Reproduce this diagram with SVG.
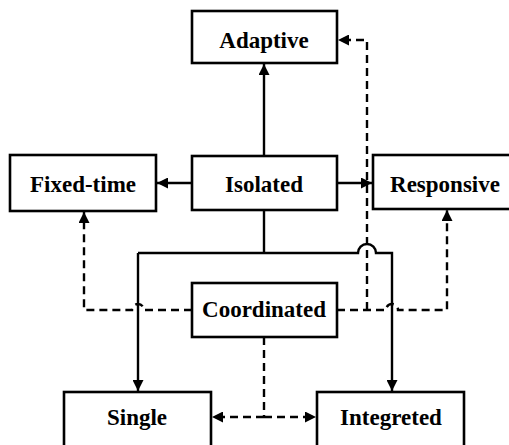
<svg xmlns="http://www.w3.org/2000/svg" width="509" height="445" viewBox="0 0 509 445">
<style>
.box{fill:#fff;stroke:#000;stroke-width:2.6}
.lbl{font-family:"Liberation Serif","Times New Roman",serif;font-weight:bold;font-size:23px;fill:#000;text-anchor:middle}
.ln{fill:none;stroke:#000;stroke-width:2.4}
.dash{fill:none;stroke:#000;stroke-width:2.4;stroke-dasharray:8 5}
</style>
<defs>
<marker id="ah" viewBox="0 0 10 10" refX="10" refY="5" markerWidth="11" markerHeight="11" markerUnits="userSpaceOnUse" orient="auto">
<path d="M0,0 L10,5 L0,10 Z" fill="#000"/>
</marker>
</defs>
<rect width="509" height="445" fill="#fff"/>
<g id="connectors">
<path class="ln" d="M264,156 V64" marker-end="url(#ah)"/>
<path class="ln" d="M192,183 H157" marker-end="url(#ah)"/>
<path class="ln" d="M337,183 H372" marker-end="url(#ah)"/>
<path class="ln" d="M264,210 V253"/>
<path class="ln" d="M138,253 H358 A9 9 0 0 1 376 253 H392 V391" marker-end="url(#ah)"/>
<path class="ln" d="M138,253 V391" marker-end="url(#ah)"/>
<path class="dash" d="M192,310 H144 A6 6 0 0 0 132 310 H84 V212" marker-end="url(#ah)"/>
<path class="dash" d="M337,310 H386 A6 6 0 0 1 398 310 H447 V210" marker-end="url(#ah)"/>
<path class="dash" d="M367,310 V40 H338" marker-end="url(#ah)"/>
<path class="dash" d="M264,337 V417"/>
<path class="dash" d="M264,417 H212" marker-end="url(#ah)"/>
<path class="dash" d="M264,417 H316" marker-end="url(#ah)"/>
</g>
<g id="adaptive"><rect class="box" x="192" y="11" width="145" height="52"/><text class="lbl" x="264" y="48">Adaptive</text></g>
<g id="fixed-time"><rect class="box" x="10" y="155" width="146" height="56"/><text class="lbl" x="83" y="192">Fixed-time</text></g>
<g id="isolated"><rect class="box" x="192" y="156" width="145" height="54"/><text class="lbl" x="264" y="192">Isolated</text></g>
<g id="responsive"><rect class="box" x="373" y="155" width="140" height="54"/><text class="lbl" x="445" y="192">Responsive</text></g>
<g id="coordinated"><rect class="box" x="192" y="283" width="145" height="54"/><text class="lbl" x="264" y="317">Coordinated</text></g>
<g id="single"><rect class="box" x="64" y="392" width="147" height="56"/><text class="lbl" x="137" y="425">Single</text></g>
<g id="integrated"><rect class="box" x="317" y="392" width="147" height="56"/><text class="lbl" x="391" y="425">Integreted</text></g>
</svg>
